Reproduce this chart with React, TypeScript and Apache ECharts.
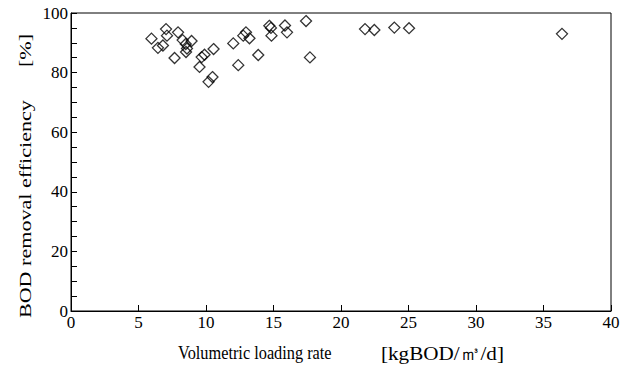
import React, { useEffect, useRef } from "react";
import * as echarts from "echarts";

const loadingRate: number[] = [
  5.96, 6.44, 6.81, 7.04, 7.11, 7.67, 7.93, 8.27, 8.5, 8.59, 8.52, 8.93,
  9.52, 9.68, 9.89, 10.19, 10.48, 10.56, 12.02, 12.39, 12.76, 12.96, 13.22,
  13.87, 14.69, 14.81, 14.85, 15.85, 16.0, 17.41, 17.7, 21.78, 22.47, 23.95,
  25.04, 36.37,
];
const removalEfficiency: number[] = [
  91.4, 88.3, 89.1, 94.6, 92.4, 84.9, 93.5, 90.9, 89.6, 88.1, 86.9, 90.6,
  81.9, 85.2, 86.0, 76.9, 78.5, 87.9, 89.8, 82.5, 92.4, 93.5, 91.5, 85.9,
  95.7, 95.0, 92.4, 95.8, 93.5, 97.3, 85.1, 94.6, 94.3, 95.1, 94.9, 93.0,
];
const xTitleName = "Volumetric loading rate";
const xTitleUnit = "[kgBOD/㎥/d]";
const yTitle = "BOD removal efficiency      [%]";

const FONT = "Times New Roman";

export default function App() {
  const ref = useRef<HTMLDivElement>(null);
  useEffect(() => {
    if (!ref.current) return;
    const chart = echarts.init(ref.current, undefined, { renderer: "svg" });
    const data = loadingRate.map((x, i) => [x, removalEfficiency[i]]);
    chart.setOption({
      animation: false,
      backgroundColor: "#fff",
      textStyle: { fontFamily: FONT },
      grid: {
        left: 71,
        right: 19,
        top: 13,
        bottom: 61,
        show: true,
        borderColor: "#000",
        borderWidth: 1,
        backgroundColor: "transparent",
      },
      graphic: [
        {
          type: "text",
          x: 25,
          y: 176,
          rotation: Math.PI / 2,
          scaleX: 1.3,
          style: {
            text: yTitle,
            fontFamily: FONT,
            fontSize: 17,
            fill: "#000",
            align: "center",
            verticalAlign: "middle",
          },
        },
        {
          type: "text",
          x: 178,
          y: 353,
          scaleX: 1.02,
          scaleY: 1.2,
          style: {
            text: xTitleName,
            fontFamily: FONT,
            fontSize: 16,
            fill: "#000",
            align: "left",
            verticalAlign: "middle",
          },
        },
        {
          type: "text",
          x: 381,
          y: 353,
          scaleX: 1.32,
          scaleY: 1.2,
          style: {
            text: xTitleUnit,
            fontFamily: FONT,
            fontSize: 16,
            fill: "#000",
            align: "left",
            verticalAlign: "middle",
          },
        },
      ],
      xAxis: {
        type: "value",
        min: 0,
        max: 40,
        interval: 5,
        axisLine: { show: true, lineStyle: { color: "#000", width: 1 } },
        axisTick: { show: true, inside: true, length: 6, lineStyle: { color: "#000" } },
        axisLabel: { fontFamily: FONT, fontSize: 17, color: "#000", margin: 3 },
        splitLine: { show: false },
      },
      yAxis: {
        type: "value",
        min: 0,
        max: 100,
        interval: 20,
        axisLine: { show: true, lineStyle: { color: "#000", width: 1 } },
        axisTick: { show: true, inside: true, length: 6, lineStyle: { color: "#000" } },
        minorTick: { show: true, splitNumber: 4, length: 6, lineStyle: { color: "#000" } },
        axisLabel: { fontFamily: FONT, fontSize: 17, color: "#000", margin: 3 },
        splitLine: { show: false },
      },
      series: [
        {
          type: "scatter",
          data,
          symbol: "diamond",
          symbolSize: [11, 11],
          itemStyle: { color: "transparent", borderColor: "#000", borderWidth: 1.3 },
        },
      ],
    });
    return () => chart.dispose();
  }, []);
  return (
    <div
      ref={ref}
      style={{ position: "absolute", left: 0, top: 0, width: 630, height: 372 }}
    />
  );
}
